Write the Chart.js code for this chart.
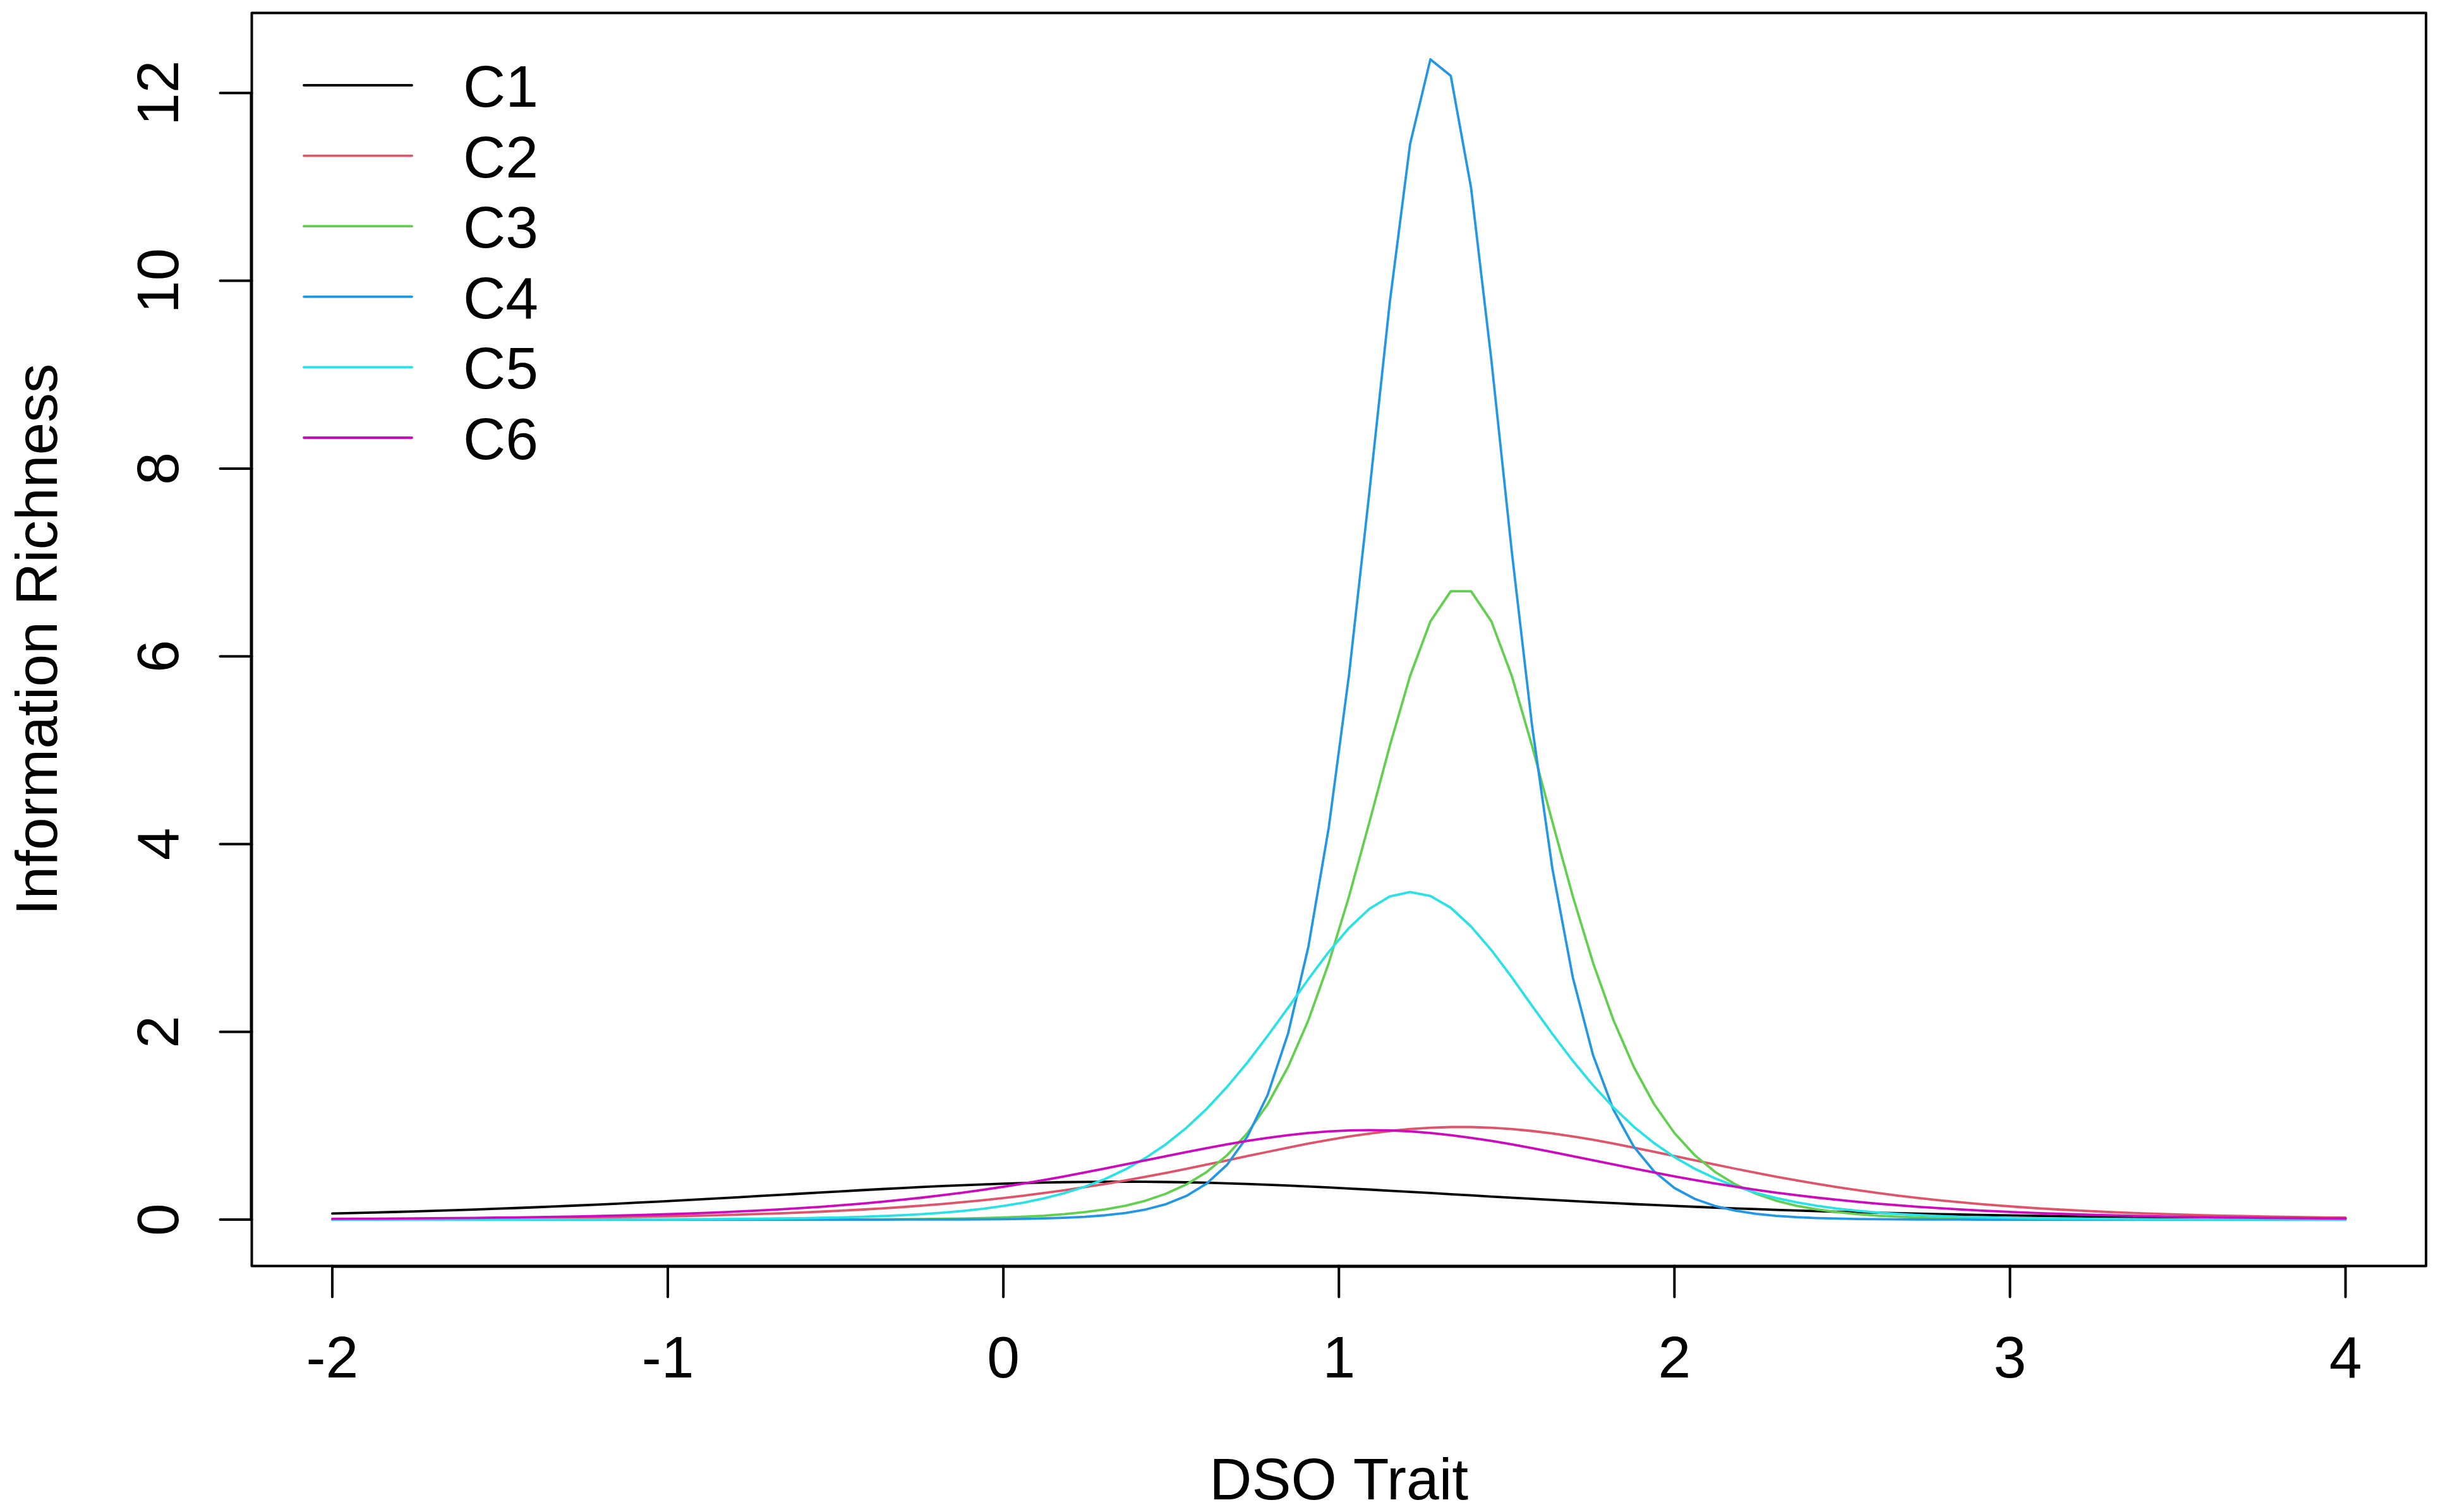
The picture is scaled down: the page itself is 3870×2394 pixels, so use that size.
<!DOCTYPE html>
<html>
<head>
<meta charset="utf-8">
<title>Information Richness by DSO Trait</title>
<script src="https://cdn.jsdelivr.net/npm/chart.js@4.4.1/dist/chart.umd.min.js"></script>
<style>
  html, body { margin: 0; padding: 0; background: #ffffff; }
  #wrap { width: 3870px; height: 2394px; position: relative; }
</style>
</head>
<body>
<div id="wrap"><canvas id="infoChart"></canvas></div>
<script>
// trait grid (100 points from -2 to 4)
const theta = [
  -2.0000, -1.9394, -1.8788, -1.8182, -1.7576, -1.6970, -1.6364, -1.5758, -1.5152, -1.4545,
  -1.3939, -1.3333, -1.2727, -1.2121, -1.1515, -1.0909, -1.0303, -0.9697, -0.9091, -0.8485,
  -0.7879, -0.7273, -0.6667, -0.6061, -0.5455, -0.4848, -0.4242, -0.3636, -0.3030, -0.2424,
  -0.1818, -0.1212, -0.0606, 0.0000, 0.0606, 0.1212, 0.1818, 0.2424, 0.3030, 0.3636,
  0.4242, 0.4848, 0.5455, 0.6061, 0.6667, 0.7273, 0.7879, 0.8485, 0.9091, 0.9697,
  1.0303, 1.0909, 1.1515, 1.2121, 1.2727, 1.3333, 1.3939, 1.4545, 1.5152, 1.5758,
  1.6364, 1.6970, 1.7576, 1.8182, 1.8788, 1.9394, 2.0000, 2.0606, 2.1212, 2.1818,
  2.2424, 2.3030, 2.3636, 2.4242, 2.4848, 2.5455, 2.6061, 2.6667, 2.7273, 2.7879,
  2.8485, 2.9091, 2.9697, 3.0303, 3.0909, 3.1515, 3.2121, 3.2727, 3.3333, 3.3939,
  3.4545, 3.5152, 3.5758, 3.6364, 3.6970, 3.7576, 3.8182, 3.8788, 3.9394, 4.0000
];

const c1 = [
  0.0651, 0.0701, 0.0754, 0.0811, 0.0871, 0.0935, 0.1003, 0.1075, 0.1152, 0.1232,
  0.1317, 0.1407, 0.1501, 0.1599, 0.1701, 0.1807, 0.1917, 0.2031, 0.2148, 0.2268,
  0.2390, 0.2513, 0.2639, 0.2764, 0.2889, 0.3012, 0.3133, 0.3251, 0.3365, 0.3473,
  0.3574, 0.3668, 0.3753, 0.3829, 0.3894, 0.3948, 0.3990, 0.4019, 0.4036, 0.4040,
  0.4030, 0.4008, 0.3973, 0.3925, 0.3866, 0.3796, 0.3716, 0.3627, 0.3529, 0.3425,
  0.3314, 0.3199, 0.3079, 0.2956, 0.2832, 0.2708, 0.2582, 0.2457, 0.2334, 0.2213,
  0.2095, 0.1979, 0.1867, 0.1759, 0.1654, 0.1554, 0.1458, 0.1366, 0.1278, 0.1195,
  0.1117, 0.1042, 0.0972, 0.0906, 0.0843, 0.0785, 0.0730, 0.0678, 0.0630, 0.0585,
  0.0543, 0.0503, 0.0467, 0.0432, 0.0401, 0.0371, 0.0344, 0.0318, 0.0294, 0.0272,
  0.0252, 0.0233, 0.0215, 0.0199, 0.0184, 0.0170, 0.0157, 0.0145, 0.0134, 0.0124
];

const c2 = [
  0.0049, 0.0055, 0.0062, 0.0070, 0.0079, 0.0089, 0.0100, 0.0113, 0.0127, 0.0144,
  0.0162, 0.0182, 0.0206, 0.0232, 0.0261, 0.0294, 0.0331, 0.0373, 0.0419, 0.0472,
  0.0531, 0.0597, 0.0670, 0.0753, 0.0845, 0.0948, 0.1063, 0.1191, 0.1333, 0.1490,
  0.1664, 0.1857, 0.2069, 0.2301, 0.2555, 0.2831, 0.3132, 0.3456, 0.3800, 0.4175,
  0.4565, 0.4980, 0.5410, 0.5860, 0.6310, 0.6770, 0.7220, 0.7670, 0.8100, 0.8490,
  0.8860, 0.9170, 0.9440, 0.9650, 0.9790, 0.9860, 0.9860, 0.9790, 0.9650, 0.9440,
  0.9180, 0.8860, 0.8500, 0.8100, 0.7670, 0.7230, 0.6770, 0.6320, 0.5860, 0.5420,
  0.4990, 0.4570, 0.4180, 0.3810, 0.3460, 0.3135, 0.2835, 0.2558, 0.2304, 0.2071,
  0.1859, 0.1667, 0.1492, 0.1334, 0.1192, 0.1064, 0.0949, 0.0846, 0.0754, 0.0671,
  0.0597, 0.0531, 0.0472, 0.0420, 0.0373, 0.0331, 0.0294, 0.0261, 0.0232, 0.0206
];

const c3 = [
  0, 0, 0, 0, 0, 0, 0, 0, 0, 0,
  0, 0, 0, 0, 0, 0, 0, 0, 0, 0,
  0, 0, 0, 0.001, 0.001, 0.002, 0.0025, 0.003, 0.005, 0.006,
  0.009, 0.012, 0.017, 0.023, 0.031, 0.042, 0.058, 0.080, 0.109, 0.148,
  0.202, 0.276, 0.375, 0.508, 0.686, 0.922, 1.230, 1.627, 2.125, 2.733,
  3.445, 4.234, 5.044, 5.791, 6.372, 6.693, 6.693, 6.372, 5.791, 5.044,
  4.234, 3.445, 2.733, 2.125, 1.627, 1.230, 0.922, 0.686, 0.508, 0.375,
  0.276, 0.202, 0.148, 0.109, 0.080, 0.058, 0.042, 0.031, 0.023, 0.017,
  0.012, 0.009, 0.006, 0.005, 0.003, 0.0025, 0.002, 0.001, 0.001, 0,
  0, 0, 0, 0, 0, 0, 0, 0, 0, 0
];

const c4 = [
  0, 0, 0, 0, 0, 0, 0, 0, 0, 0,
  0, 0, 0, 0, 0, 0, 0, 0, 0, 0,
  0, 0, 0, 0, 0, 0, 0, 0, 0.001, 0.001,
  0.0015, 0.002, 0.0035, 0.005, 0.008, 0.013, 0.020, 0.030, 0.046, 0.071,
  0.108, 0.165, 0.252, 0.385, 0.584, 0.885, 1.331, 1.982, 2.908, 4.174,
  5.807, 7.751, 9.767, 11.456, 12.359, 12.184, 10.990, 9.152, 7.116, 5.257,
  3.735, 2.581, 1.750, 1.171, 0.777, 0.513, 0.337, 0.221, 0.145, 0.095,
  0.062, 0.040, 0.026, 0.017, 0.011, 0.007, 0.005, 0.003, 0.002, 0.001,
  0.001, 0, 0, 0, 0, 0, 0, 0, 0, 0,
  0, 0, 0, 0, 0, 0, 0, 0, 0, 0
];

const c5 = [
  0, 0, 0, 0, 0, 0, 0.0003, 0.0004, 0.0005, 0.0006,
  0.0008, 0.0010, 0.0012, 0.0016, 0.0020, 0.0025, 0.0031, 0.0039, 0.0049, 0.0061,
  0.0077, 0.0096, 0.0121, 0.0151, 0.0190, 0.0238, 0.0299, 0.0375, 0.0470, 0.0589,
  0.0739, 0.0927, 0.1163, 0.1459, 0.1819, 0.2267, 0.2820, 0.3500, 0.4330, 0.5350,
  0.6580, 0.8040, 0.9780, 1.1810, 1.4140, 1.6740, 1.9590, 2.2570, 2.5620, 2.8520,
  3.1080, 3.3110, 3.4430, 3.4900, 3.4480, 3.3220, 3.1220, 2.8700, 2.5810, 2.2770,
  1.9780, 1.6920, 1.4300, 1.1950, 0.9900, 0.8150, 0.6660, 0.5420, 0.4390, 0.3550,
  0.2860, 0.2300, 0.1845, 0.1480, 0.1180, 0.0941, 0.0750, 0.0598, 0.0477, 0.0380,
  0.0303, 0.0242, 0.0193, 0.0154, 0.0122, 0.0098, 0.0078, 0.0062, 0.0049, 0.0039,
  0.0031, 0.0025, 0.0020, 0.0016, 0.0013, 0.0010, 0.0008, 0.0006, 0.0005, 0.0004
];

const c6 = [
  0.0081, 0.0091, 0.0103, 0.0116, 0.0131, 0.0147, 0.0166, 0.0187, 0.0211, 0.0238,
  0.0268, 0.0301, 0.0339, 0.0382, 0.0430, 0.0483, 0.0544, 0.0611, 0.0687, 0.0771,
  0.0865, 0.0970, 0.1087, 0.1217, 0.1361, 0.1522, 0.1698, 0.1894, 0.2108, 0.2343,
  0.2599, 0.2877, 0.3178, 0.3503, 0.3851, 0.4220, 0.4610, 0.5018, 0.5442, 0.5877,
  0.6317, 0.6760, 0.7194, 0.7616, 0.8015, 0.8384, 0.8714, 0.8996, 0.9225, 0.9393,
  0.9495, 0.9530, 0.9495, 0.9393, 0.9225, 0.8996, 0.8714, 0.8384, 0.8015, 0.7616,
  0.7194, 0.6760, 0.6317, 0.5877, 0.5442, 0.5018, 0.4610, 0.4220, 0.3851, 0.3503,
  0.3178, 0.2877, 0.2599, 0.2343, 0.2108, 0.1894, 0.1698, 0.1522, 0.1361, 0.1217,
  0.1087, 0.0970, 0.0865, 0.0771, 0.0687, 0.0611, 0.0544, 0.0483, 0.0430, 0.0382,
  0.0339, 0.0301, 0.0268, 0.0238, 0.0211, 0.0187, 0.0166, 0.0147, 0.0131, 0.0116
];

const seriesNames = ["C1", "C2", "C3", "C4", "C5", "C6"];
const seriesValues = [c1, c2, c3, c4, c5, c6];
const seriesColors = ["#000000", "#DF536B", "#61D04F", "#2297E6", "#28E2E5", "#CD0BBC"];
const xTicks = [-2, -1, 0, 1, 2, 3, 4];
const yTicks = [0, 2, 4, 6, 8, 10, 12];
const xTitle = "DSO Trait";
const yTitle = "Information Richness";

const FONT = '93px "Liberation Sans", Arial, Helvetica, sans-serif';

// R style box, axes, titles and legend, placed with the chart's own scales
const baseGraphics = {
  id: 'baseGraphics',
  beforeDraw(chart) {
    const ctx = chart.ctx;
    ctx.save();
    ctx.fillStyle = '#ffffff';
    ctx.fillRect(0, 0, chart.width, chart.height);
    ctx.restore();
  },
  afterDraw(chart) {
    const ctx = chart.ctx;
    const area = chart.chartArea;
    const xs = chart.scales.x;
    const ys = chart.scales.y;
    ctx.save();
    ctx.strokeStyle = '#000000';
    ctx.fillStyle = '#000000';
    ctx.lineWidth = 4;
    ctx.lineCap = 'round';
    ctx.lineJoin = 'round';

    // plot box
    ctx.strokeRect(area.left, area.top, area.right - area.left, area.bottom - area.top);

    // x axis line + ticks
    ctx.beginPath();
    ctx.moveTo(xs.getPixelForValue(xTicks[0]), area.bottom + 1);
    ctx.lineTo(xs.getPixelForValue(xTicks[xTicks.length - 1]), area.bottom + 1);
    xTicks.forEach((v) => {
      const px = xs.getPixelForValue(v);
      ctx.moveTo(px, area.bottom);
      ctx.lineTo(px, area.bottom + 49);
    });
    // y axis line + ticks
    ctx.moveTo(area.left - 1, ys.getPixelForValue(yTicks[0]));
    ctx.lineTo(area.left - 1, ys.getPixelForValue(yTicks[yTicks.length - 1]));
    yTicks.forEach((v) => {
      const py = ys.getPixelForValue(v);
      ctx.moveTo(area.left, py);
      ctx.lineTo(area.left - 50, py);
    });
    ctx.stroke();

    ctx.font = FONT;
    ctx.textBaseline = 'alphabetic';
    ctx.textAlign = 'center';
    xTicks.forEach((v) => {
      ctx.fillText(String(v), xs.getPixelForValue(v), area.bottom + 176);
    });
    ctx.fillText(xTitle, (area.left + area.right) / 2, area.bottom + 369);

    // rotated y labels (R las = 0)
    yTicks.forEach((v) => {
      ctx.save();
      ctx.translate(area.left - 116.5, ys.getPixelForValue(v));
      ctx.rotate(-Math.PI / 2);
      ctx.fillText(String(v), 0, 0);
      ctx.restore();
    });
    ctx.save();
    ctx.translate(area.left - 309, (area.top + area.bottom) / 2);
    ctx.rotate(-Math.PI / 2);
    ctx.fillText(yTitle, 0, 0);
    ctx.restore();

    // legend, no box
    ctx.textAlign = 'left';
    seriesNames.forEach((name, i) => {
      const rowY = area.top + 114.5 + i * 111.6;
      ctx.strokeStyle = seriesColors[i];
      ctx.lineWidth = 3.8;
      ctx.beginPath();
      ctx.moveTo(area.left + 82.5, rowY);
      ctx.lineTo(area.left + 253.5, rowY);
      ctx.stroke();
      ctx.fillStyle = '#000000';
      ctx.fillText(name, area.left + 334.5, rowY + 34);
    });
    ctx.restore();
  }
};

const datasets = seriesNames.map((name, i) => ({
  label: name,
  data: theta.map((t, k) => ({ x: t, y: seriesValues[i][k] })),
  borderColor: seriesColors[i],
  backgroundColor: seriesColors[i],
  borderWidth: 3.8,
  borderJoinStyle: 'round',
  borderCapStyle: 'round',
  pointRadius: 0,
  tension: 0,
  fill: false,
  order: seriesNames.length - i
}));

const config = {
  type: 'line',
  data: { datasets: datasets },
  options: {
    responsive: true,
    maintainAspectRatio: false,
    animation: false,
    layout: {
      padding: { left: 398.5, top: 20.5, right: 30, bottom: 389.5 }
    },
    plugins: {
      legend: { display: false },
      title: { display: false },
      tooltip: { enabled: false }
    },
    scales: {
      x: { type: 'linear', min: -2.24, max: 4.24, display: false },
      y: { type: 'linear', min: -0.494, max: 12.853, display: false }
    }
  },
  plugins: [baseGraphics]
};

new Chart(document.getElementById('infoChart'), config);
</script>
</body>
</html>
